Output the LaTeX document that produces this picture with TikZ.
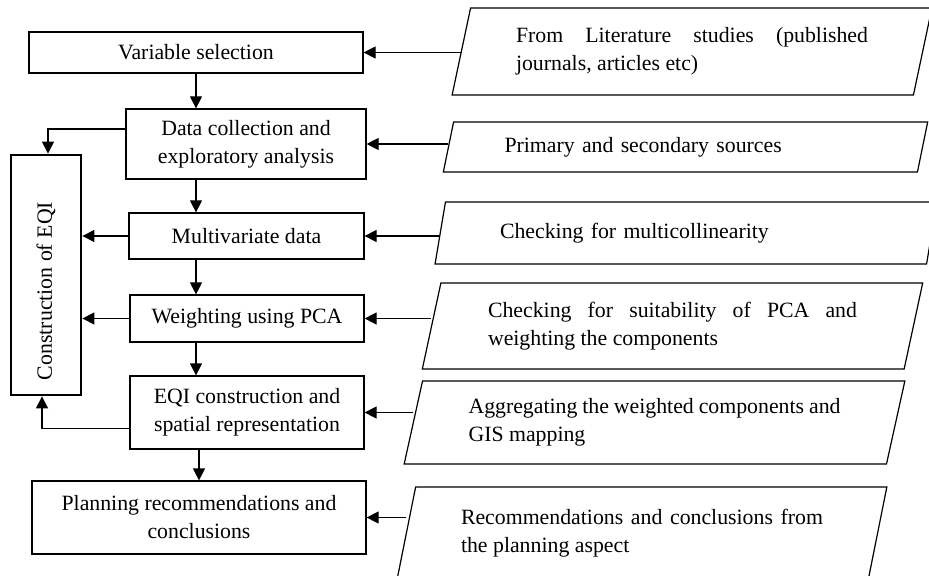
\documentclass[tikz,border=0pt]{standalone}
\usepackage{fontspec}
\setmainfont{Liberation Serif}
\usetikzlibrary{positioning}
\usetikzlibrary{arrows.meta}
\usetikzlibrary{shapes.geometric}
\hyphenpenalty=10000 % No split words in the justified texts
\tolerance=9999
\tikzset{x=0.5pt, y=-0.5pt, % One unit is one pixel of the figure, y runs downwards
      every node/.style={font=\fontsize{10.9pt}{14pt}\selectfont},
      stepbox/.style={ % Boxes of the main flow
      draw, line width=0.6pt, rectangle, align=center, inner sep=0pt},
      eqibox/.style={ % The tall box on the left
      draw, line width=1.4pt, rectangle, inner sep=0pt},
      source/.style={ % Slanted input boxes on the right
      draw, line width=0.6pt, trapezium, trapezium left angle=76,
      trapezium right angle=104, trapezium stretches=true, align=justify},
      flow/.style={ % Every connector
      -{Triangle[length=6pt,width=6pt]}, line width=0.6pt}}

\begin{document}
\begin{tikzpicture}
      \useasboundingbox (0,0) rectangle (929,576);
      \clip (0,0) rectangle (929,576);
      % main flow
      \node[stepbox, minimum width=167pt, minimum height=20.5pt] (vs) at (196,52.5) {Variable selection};
      \node[stepbox, minimum width=120pt, minimum height=35pt] (dc) at (246,144) {Data collection and\\exploratory analysis};
      \node[stepbox, minimum width=117.5pt, minimum height=23pt] (md) at (246.5,236) {Multivariate data};
      \node[stepbox, minimum width=117pt, minimum height=23.5pt] (wp) at (247,318.5) {Weighting using PCA};
      \node[stepbox, minimum width=117pt, minimum height=36.5pt] (eqi) at (247,412.5) {EQI construction and\\spatial representation};
      \node[stepbox, minimum width=167pt, minimum height=36.5pt] (plan) at (199,517.5) {Planning recommendations and\\conclusions};
      \node[eqibox, minimum width=35pt, minimum height=120pt] (constr) at (46,275) {};
      \node[rotate=90] (constrtext) at (46,291) {Construction of EQI};
      % inputs
      \node[source, text width=176pt, minimum width=240pt, minimum height=43.5pt] (lit) at (692,51.5) {From Literature studies (published journals, articles etc)};
      \node[source, text width=181pt, align=left, minimum width=242.5pt, minimum height=25pt] (prim) at (685.5,147) {Primary and secondary sources};
      \node[source, text width=186pt, align=left, minimum width=251pt, minimum height=31pt] (multi) at (686,233) {Checking for multicollinearity};
      \node[source, text width=184.5pt, minimum width=250.5pt, minimum height=43pt] (suit) at (672.5,326) {Checking for suitability of PCA and weighting the components};
      \node[source, text width=186pt, minimum width=250.5pt, minimum height=41.5pt] (agg) at (654.5,422.5) {Aggregating the weighted components and GIS mapping};
      \node[source, text width=181pt, minimum width=245.5pt, minimum height=46pt] (rec) at (642,533) {Recommendations and conclusions from the planning aspect};
      % down the column
      \draw[flow] (vs.south) -- (vs.south |- dc.north);
      \draw[flow] (dc.south -| vs.south) -- (vs.south |- md.north);
      \draw[flow] (md.south -| vs.south) -- (vs.south |- wp.north);
      \draw[flow] (wp.south -| vs.south) -- (vs.south |- eqi.north);
      \draw[flow] (eqi.south -| plan.north) -- (plan.north);
      % into the EQI box
      \draw[flow] ([yshift=7.5pt]dc.west) -| ([xshift=1pt]constr.north);
      \draw[flow] (md.west) -- (md.west -| constr.east);
      \draw[flow] (wp.west) -- (wp.west -| constr.east);
      \draw[flow] ([yshift=-8pt]eqi.west) -| ([xshift=-2pt]constr.south);
      % from the inputs
      \draw[flow] (vs.east -| lit.west) -- (vs.east);
      \draw[flow] (dc.east -| prim.west) -- (dc.east);
      \draw[flow] (md.east -| multi.west) -- (md.east);
      \draw[flow] (wp.east -| suit.west) -- (wp.east);
      \draw[flow] (eqi.east -| agg.west) -- (eqi.east);
      \draw[flow] (plan.east -| rec.west) -- (plan.east);
\end{tikzpicture}
\end{document}
